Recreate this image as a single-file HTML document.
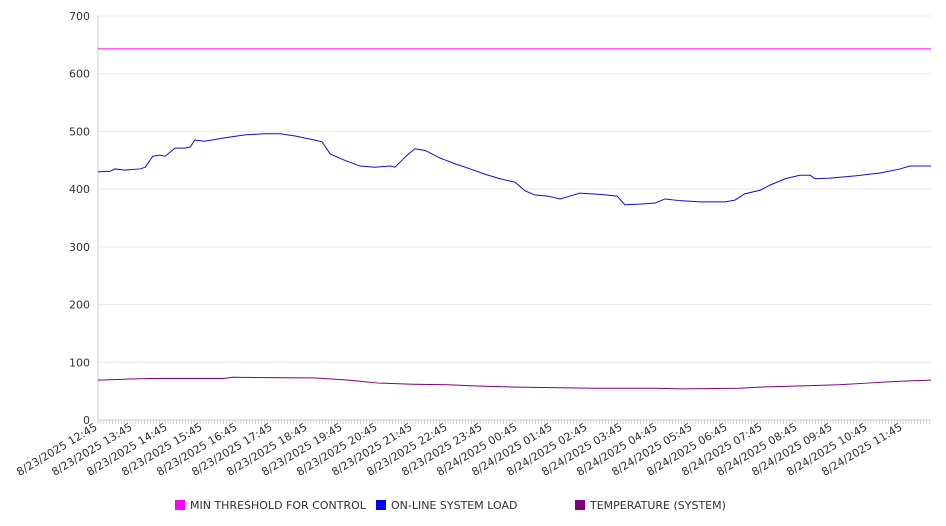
<!DOCTYPE html>
<html><head><meta charset="utf-8"><style>
html,body{margin:0;padding:0;background:#fff;}
svg{display:block;font-family:"DejaVu Sans","Liberation Sans",sans-serif;}
</style></head><body>
<svg id="chart" width="946" height="526" viewBox="0 0 946 526" xmlns="http://www.w3.org/2000/svg">
<g id="grid"></g>
<g id="yaxis"></g>
<g id="xaxis"></g>
<g id="series"></g>
<g id="legend"></g>
</svg>
<script>
const yTicks = [0,100,200,300,400,500,600,700];
const xTickLabels = ["8/23/2025 12:45","8/23/2025 13:45","8/23/2025 14:45","8/23/2025 15:45","8/23/2025 16:45","8/23/2025 17:45","8/23/2025 18:45","8/23/2025 19:45","8/23/2025 20:45","8/23/2025 21:45","8/23/2025 22:45","8/23/2025 23:45","8/24/2025 00:45","8/24/2025 01:45","8/24/2025 02:45","8/24/2025 03:45","8/24/2025 04:45","8/24/2025 05:45","8/24/2025 06:45","8/24/2025 07:45","8/24/2025 08:45","8/24/2025 09:45","8/24/2025 10:45","8/24/2025 11:45"];
const thresholdValue = 643;
const loadMinutes = [0,21,29,46,72,81,89,94,106,115,132,149,158,166,183,218,252,286,312,338,372,384,398,423,449,475,501,509,527,543,561,586,612,638,663,689,715,732,749,771,792,809,826,861,890,903,929,955,972,998,1032,1058,1075,1092,1109,1135,1152,1178,1203,1221,1229,1255,1298,1341,1375,1392,1428];
const loadValues = [430,431,435,433,435,438,450,457,459,457,471,471,473,485,483,489,494,496,496,492,485,482,461,450,440,438,440,438,456,470,467,454,444,435,426,418,412,397,390,388,383,388,393,391,388,373,374,376,383,380,378,378,378,381,392,398,407,418,424,424,418,419,423,428,435,440,440];
const tempMinutes = [0,55,90,216,230,350,370,430,480,540,600,650,720,850,955,1000,1100,1135,1200,1270,1320,1370,1428];
const tempValues = [69,71,72,72,74,73,73,69,64,62,61,59,57,55,55,54,55,57,59,61,64,67,69];
const legendLabels = ["MIN THRESHOLD FOR CONTROL","ON-LINE SYSTEM LOAD","TEMPERATURE (SYSTEM)"];
const legendColors = ["#ff00ff","#0000ff","#800080"];

const NS="http://www.w3.org/2000/svg";
const X0=98,X1=931,Y0=420,Y1=16,TMAX=1428,VMAX=700;
const xs=m=>X0+(m/TMAX)*(X1-X0);
const ys=v=>Y0-(v/VMAX)*(Y0-Y1);
function mk(tag,attrs,parent){const e=document.createElementNS(NS,tag);for(const k in attrs)e.setAttribute(k,attrs[k]);parent.appendChild(e);return e;}
const grid=document.getElementById('grid'),yaxis=document.getElementById('yaxis'),xaxis=document.getElementById('xaxis'),series=document.getElementById('series'),legend=document.getElementById('legend');

yTicks.forEach(v=>{
  const l=mk('line',{x1:X0,x2:X1,y1:ys(v),y2:ys(v),stroke:'#e8e8e8','stroke-width':1},grid);
  
  
  const t=mk('text',{x:90,y:ys(v)+4,'text-anchor':'end','font-size':11,fill:'#333'},yaxis);
  t.textContent=v;
  
  
});
const ax=mk('line',{x1:X0,x2:X0,y1:Y1,y2:Y0,stroke:'#ccc','stroke-width':1},yaxis);


const bx=mk('line',{x1:X0,x2:X1,y1:Y0,y2:Y0,stroke:'#ccc','stroke-width':1},xaxis);


for(let m=0;m<=TMAX;m+=5){
  const tk=mk('line',{x1:xs(m),x2:xs(m),y1:Y0,y2:Y0+4,stroke:'#bbb','stroke-width':0.6},xaxis);
  
  
}
xTickLabels.forEach((lab,i)=>{
  const x=xs(i*60);
  const t=mk('text',{x:x,y:Y0+9,'text-anchor':'end','font-size':11,fill:'#333',transform:`rotate(-31 ${x} ${Y0+9})`},xaxis);
  t.textContent=lab;
  
  
});

const th=mk('line',{x1:X0,x2:X1,y1:ys(thresholdValue),y2:ys(thresholdValue),stroke:legendColors[0],'stroke-width':1},series);


const lp=mk('polyline',{points:loadMinutes.map((m,i)=>xs(m)+','+ys(loadValues[i])).join(' '),fill:'none',stroke:'#1010c8','stroke-width':1},series);


const tp=mk('polyline',{points:tempMinutes.map((m,i)=>xs(m)+','+ys(tempValues[i])).join(' '),fill:'none',stroke:legendColors[2],'stroke-width':1},series);



const lx=[175,376,575];
legendLabels.forEach((lab,i)=>{
  const r=mk('rect',{x:lx[i],y:500,width:10,height:10,fill:legendColors[i]},legend);
  
  
  const t=mk('text',{x:lx[i]+15,y:509,'font-size':11,fill:'#333'},legend);
  t.textContent=lab;
  
  
});
</script>
</body></html>
